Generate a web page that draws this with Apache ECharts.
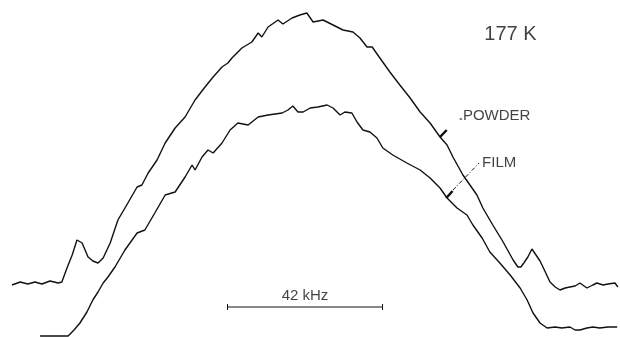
<!DOCTYPE html>
<html>
<head>
<meta charset="utf-8">
<script src="https://cdn.jsdelivr.net/npm/echarts@6/dist/echarts.min.js"></script>
<style>html,body{margin:0;padding:0;background:#fff}#c{width:620px;height:337px}</style>
</head>
<body>
<div id="c"></div>
<script>
// Frequency offset (kHz) vs. intensity (arbitrary units)
const powder = [
[-79.4,52],[-77.2,55],[-75.1,53],[-73.2,55],[-71.3,53],[-69.1,56],[-66.9,54],[-65.9,55],
[-64.5,69],[-63.1,82],[-61.8,97],[-60.4,94],[-58.8,80],[-57.5,76],[-56.1,74],[-55.6,75],
[-54.7,79],[-52.8,94],[-50.7,117],[-48.0,134],[-45.5,150],[-44.2,152],[-42.5,164],[-40.1,177],
[-37.9,194],[-35.2,209],[-32.5,220],[-29.8,237],[-27.1,250],[-24.9,260],[-22.5,270],[-20.9,274],
[-19.8,279],[-17.1,289],[-14.4,295],[-12.7,304],[-11.7,300],[-10.0,310],[-7.3,317],[-6.0,313],
[-3.5,319],[-1.4,322],[0.5,324],[2.2,315],[4.9,317],[7.6,312],[10.3,307],[13.0,305],
[14.9,299],[16.8,290],[18.2,290],[20.3,279],[23.0,265],[25.7,252],[28.5,239],[31.2,225],
[33.9,214],[36.6,200],[38.5,192],[40.1,180],[42.8,162],[44.7,152],[46.6,142],[48.2,129],
[50.9,112],[53.7,95],[56.4,77],[57.7,70],[58.5,70],[59.3,74],[60.4,80],[61.5,88],
[62.6,82],[63.7,76],[65.0,66],[66.4,55],[67.8,50],[69.1,47],[70.5,49],[71.8,50],
[73.2,51],[74.5,54],[76.4,49],[78.0,52],[79.1,54],[80.8,52],[82.1,53],[84.0,54],[84.8,50]
];
const film = [
[-71.8,1],[-67.8,1],[-64.2,1],[-62.6,7],[-61.0,14],[-59.1,25],[-57.5,37],[-56.1,45],
[-54.7,54],[-53.4,60],[-51.5,70],[-48.8,87],[-45.5,104],[-43.4,107],[-40.7,124],[-37.9,142],
[-35.2,145],[-32.5,160],[-30.6,172],[-29.8,167],[-27.9,180],[-26.3,187],[-24.9,184],[-22.5,194],
[-20.3,207],[-18.2,214],[-15.4,212],[-12.7,220],[-10.0,222],[-6.2,224],[-4.6,227],[-3.3,231],
[-1.9,225],[-0.5,225],[1.4,229],[3.5,230],[6.0,232],[7.6,229],[9.5,222],[10.8,225],
[12.7,224],[14.1,215],[15.7,207],[17.6,205],[19.5,199],[21.1,189],[23.8,182],[27.6,174],
[31.2,167],[33.9,159],[36.6,149],[38.5,139],[41.2,129],[43.9,122],[45.5,112],[48.0,99],
[50.1,85],[52.8,74],[55.6,62],[58.3,49],[60.2,37],[61.8,24],[63.7,14],[65.6,9],
[67.8,10],[69.6,9],[71.8,10],[73.2,7],[74.5,7],[76.4,9],[78.0,10],[79.9,9],
[82.1,10],[84.6,10]
];
// Scale bar: 42 kHz
const scaleStart = -21, scaleEnd = 21, scaleLevel = 30;
const tempLabel = "177 K";
const seriesLabels = ["POWDER", "FILM"];
const scaleLabel = "42 kHz";

const ink = '#111';
const font = 'Liberation Sans, Arial, sans-serif';
const chart = echarts.init(document.getElementById('c'), null, {renderer:'canvas'});
const seg = (a, b, w, type) => ({
  type:'line', data:[a, b], symbol:'none', silent:true, animation:false,
  lineStyle:{color:ink, width:w, type:type||'solid'}
});
const txt = (pt, text, size, pos) => ({
  type:'scatter', data:[pt], symbolSize:0, silent:true, animation:false,
  label:{show:true, formatter:text, position:pos, distance:0, color:ink,
         fontFamily:font, fontSize:size}
});
chart.setOption({
  animation:false,
  backgroundColor:'#fff',
  grid:{left:0, right:0, top:0, bottom:0},
  xAxis:{type:'value', min:-82.66, max:85.37, show:false},
  yAxis:{type:'value', min:0, max:337, show:false},
  series:[
    {type:'line', name:'POWDER', data:powder, symbol:'none', smooth:false,
     lineStyle:{color:ink, width:1.4}},
    {type:'line', name:'FILM', data:film, symbol:'none', smooth:false,
     lineStyle:{color:ink, width:1.4}},
    // scale bar
    seg([scaleStart, scaleLevel], [scaleEnd, scaleLevel], 1),
    seg([scaleStart, scaleLevel-3], [scaleStart, scaleLevel+3], 1),
    seg([scaleEnd, scaleLevel-3], [scaleEnd, scaleLevel+3], 1),
    // markers on curves and leaders
    seg([36.6, 200], [38.4, 207], 2.5),
    seg([41.9, 218], [42.6, 218], 1),
    seg([38.3, 139], [40.0, 146], 2.5),
    seg([40.1, 147], [47.2, 174], 1, [4, 2, 1, 2]),
    // labels
    txt([48.6, 303], tempLabel, 20, 'right'),
    txt([42.8, 221], seriesLabels[0], 15, 'right'),
    txt([48.0, 174], seriesLabels[1], 15, 'right'),
    txt([0, 41], scaleLabel, 15, 'inside')
  ]
});
</script>
</body>
</html>
